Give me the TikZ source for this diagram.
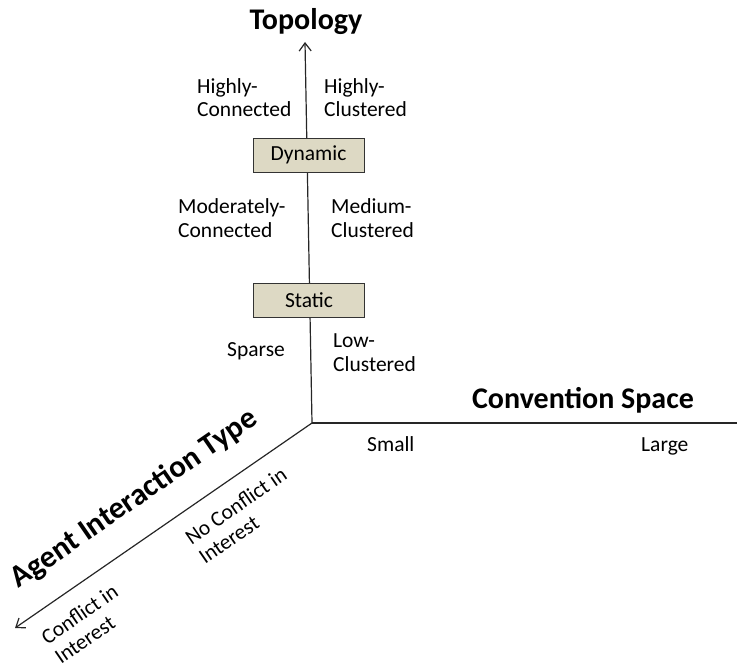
\documentclass[tikz,border=0pt]{standalone}
\usepackage{fontspec}
\setmainfont{Carlito}
\usetikzlibrary{arrows.meta}
\definecolor{stagefill}{HTML}{DDD9C4}
\tikzset{
  axisline/.style={line width=1.2pt, draw=black!85},
  axistip/.style={-{Straight Barb[length=8pt,width=12pt,line width=1.2pt]}},
  % multi-line labels: the base anchor sits on the last line
  lbl/.style={font=\fontsize{21.5}{24}\selectfont, inner sep=0pt, align=left, anchor=base west},
  ttl/.style={font=\bfseries\fontsize{30}{36}\selectfont, inner sep=0pt, anchor=base},
  stagebox/.style={draw=black!80, fill=stagefill, line width=1pt, minimum width=111pt,
    minimum height=34pt, inner sep=0pt, font=\fontsize{21.5}{24}\selectfont},
}
\begin{document}
\begin{tikzpicture}[x=1pt, y=-1pt]
\useasboundingbox (0,0) rectangle (737,669);

% axes meeting at the origin
\coordinate (O) at (312,423);
\coordinate (topTip) at (305,42);
\coordinate (rightEnd) at (737,423);
\coordinate (diagTip) at (15,628);
\draw[axisline, axistip] (O) -- (topTip);
\draw[axisline] (O) -- (rightEnd);
\draw[axisline, axistip] (O) -- (diagTip);

% stages on the topology axis
\node[stagebox] (dyn) at (308.5,155) {Dynamic};
\node[stagebox] (sta) at (309,300) {Static};

% axis titles
\node[ttl] (topo) at (306,30) {Topology};
\node[ttl] (conv) at (583,408) {Convention Space};
\node[ttl, rotate=34.6, font=\bfseries\fontsize{31}{36}\selectfont] (agent) at (139,506) {Agent Interaction Type};

% topology levels
\node[lbl] (hc) at (197,117) {Highly-\\Connected};
\node[lbl] (hcl) at (324,117) {Highly-\\Clustered};
\node[lbl] (mc) at (178,237) {Moderately-\\Connected};
\node[lbl] (mcl) at (331,237) {Medium-\\Clustered};
\node[lbl] (sp) at (227,356) {Sparse};
\node[lbl] (lcl) at (333,371) {Low-\\Clustered};

% convention space levels
\node[lbl] (small) at (367,451) {Small};
\node[lbl] (large) at (641,451) {Large};

% interaction types
\node[lbl, rotate=34.6] (noconf) at (205,565) {No Conflict in\\Interest};
\node[lbl, rotate=34.6] (conf) at (61,665) {Conflict in\\Interest};
\end{tikzpicture}
\end{document}
